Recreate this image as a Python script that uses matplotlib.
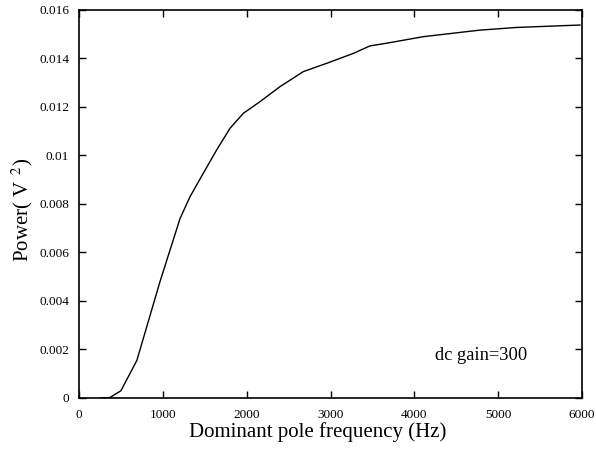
import matplotlib
matplotlib.use("Agg")
import matplotlib.pyplot as plt

freq_hz = [250, 370, 500, 690, 966, 1205, 1324, 1483, 1642, 1801, 1960, 2159, 2398, 2676, 2954, 3272,
           3471, 3670, 4107, 4783, 5221, 5976]
power_v2 = [0.0, 0.00002, 0.0003, 0.00155, 0.0048, 0.0074, 0.0083, 0.00927, 0.01023, 0.01112, 0.01174,
            0.01222, 0.01284, 0.01346, 0.01380, 0.01421, 0.01452, 0.01463, 0.01490, 0.01517, 0.01528, 0.01538]

xticks = [0, 1000, 2000, 3000, 4000, 5000, 6000]
yticks = [0, 0.002, 0.004, 0.006, 0.008, 0.01, 0.012, 0.014, 0.016]
ytick_labels = ["0", "0.002", "0.004", "0.006", "0.008", "0.01", "0.012", "0.014", "0.016"]

plt.rcParams['font.family'] = ['Liberation Serif', 'DejaVu Serif']
plt.rcParams['mathtext.fontset'] = 'stix'

fig = plt.figure(figsize=(5.96, 4.5), dpi=100)
ax = fig.add_axes([0.1326, 0.1156, 0.8439, 0.8622])
ax.plot(freq_hz, power_v2, color='black', linewidth=1.0)
ax.set_xlim(0, 6000)
ax.set_ylim(0, 0.016)
ax.set_xticks(xticks)
ax.set_xticklabels([str(t) for t in xticks])
ax.set_yticks(yticks)
ax.set_yticklabels(ytick_labels)
ax.tick_params(direction='in', top=True, right=True, length=5, width=1, labelsize=9.5)
ax.tick_params(axis='x', pad=8)
ax.tick_params(axis='y', pad=7)
for s in ax.spines.values():
    s.set_linewidth(1.2)
ax.set_xlabel("Dominant pole frequency (Hz)", fontsize=15)
ax.set_ylabel("Power( V $^{\\,2}$)", fontsize=15)
ax.xaxis.set_label_coords(0.475, -0.088)
ax.xaxis.label.set_va('center')
ax.yaxis.set_label_coords(-0.113, 0.485)
ax.yaxis.label.set_va('center')
ax.text(4797, 0.00177, "dc gain=300", fontsize=13.3, ha='center', va='center')
fig.savefig("out.png", dpi=100)
